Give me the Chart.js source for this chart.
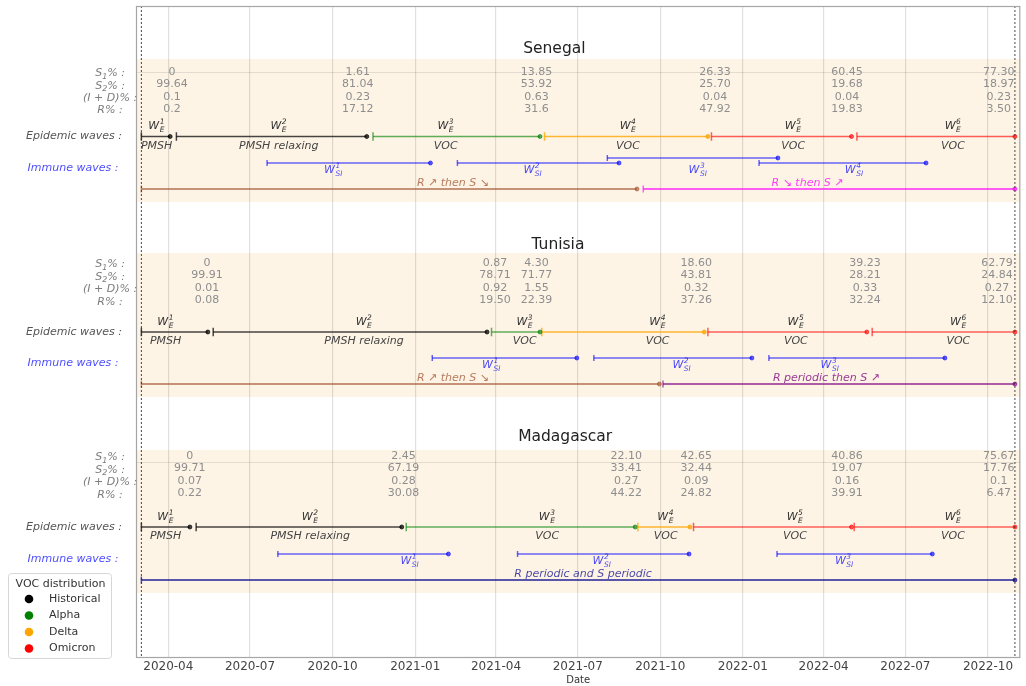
<!DOCTYPE html>
<html>
<head>
<meta charset="utf-8">
<title>Epidemic and immune waves</title>
<script src="https://cdn.jsdelivr.net/npm/chart.js@4.4.1/dist/chart.umd.min.js"></script>
<style>
  html, body { margin: 0; padding: 0; background: #ffffff; }
  #wrap { width: 1026px; height: 686px; }
</style>
</head>
<body>
<div id="wrap"><canvas id="chart" width="1026" height="686"></canvas></div>
<script>
// ---------- axis ----------
const tickLabels = ['2020-04', '2020-07', '2020-10', '2021-01', '2021-04', '2021-07',
                    '2021-10', '2022-01', '2022-04', '2022-07', '2022-10'];
const axisStart = '2020-02-25';
const axisEnd = '2022-11-06';
const studyStart = '2020-03-02';
const studyEnd = '2022-10-31';
const vocNames = ['Historical', 'Alpha', 'Delta', 'Omicron'];

// ---------- Senegal ----------
const senegalWaveStart = ['2020-03-02', '2020-04-10', '2020-11-15', '2021-05-25', '2021-11-27', '2022-05-08'];
const senegalWaveEnd   = ['2020-04-03', '2020-11-08', '2021-05-20', '2021-11-23', '2022-05-02', '2022-10-31'];
const senegalWaveVoc   = ['Historical', 'Historical', 'Alpha', 'Delta', 'Omicron', 'Omicron'];
const senegalWaveLabelAt = ['2020-03-19', '2020-08-02', '2021-02-04', '2021-08-26', '2022-02-26', '2022-08-23'];
const senegalWaveNote  = ['PMSH', 'PMSH relaxing', 'VOC', 'VOC', 'VOC', 'VOC'];
const senegalStatAt = ['2020-04-05', '2020-10-29', '2021-05-16', '2021-12-01', '2022-04-27', '2022-10-13'];
const senegalS1 = ['0', '1.61', '13.85', '26.33', '60.45', '77.30'];
const senegalS2 = ['99.64', '81.04', '53.92', '25.70', '19.68', '18.97'];
const senegalID = ['0.1', '0.23', '0.63', '0.04', '0.04', '0.23'];
const senegalR  = ['0.2', '17.12', '31.6', '47.92', '19.83', '3.50'];
const senegalImmuneStart = ['2020-07-20', '2021-02-17', '2021-08-03', '2022-01-19'];
const senegalImmuneEnd   = ['2021-01-18', '2021-08-16', '2022-02-09', '2022-07-24'];
const senegalImmuneLabelAt = ['2020-10-02', '2021-05-12', '2021-11-12', '2022-05-05'];
const senegalTrendStart = ['2020-03-02', '2021-09-12'];
const senegalTrendEnd   = ['2021-09-05', '2022-10-31'];
const senegalTrendText  = ['R ↗ then S ↘', 'R ↘ then S ↗'];
const senegalTrendLabelAt = ['2021-02-12', '2022-03-14'];

// ---------- Tunisia ----------
const tunisiaWaveStart = ['2020-03-02', '2020-05-21', '2021-03-27', '2021-05-22', '2021-11-23', '2022-05-25'];
const tunisiaWaveEnd   = ['2020-05-15', '2021-03-22', '2021-05-20', '2021-11-19', '2022-05-19', '2022-10-31'];
const tunisiaWaveVoc   = ['Historical', 'Historical', 'Alpha', 'Delta', 'Omicron', 'Omicron'];
const tunisiaWaveLabelAt = ['2020-03-29', '2020-11-05', '2021-05-03', '2021-09-28', '2022-03-01', '2022-08-29'];
const tunisiaWaveNote  = ['PMSH', 'PMSH relaxing', 'VOC', 'VOC', 'VOC', 'VOC'];
const tunisiaStatAt = ['2020-05-14', '2021-03-31', '2021-05-16', '2021-11-10', '2022-05-17', '2022-10-11'];
const tunisiaS1 = ['0', '0.87', '4.30', '18.60', '39.23', '62.79'];
const tunisiaS2 = ['99.91', '78.71', '71.77', '43.81', '28.21', '24.84'];
const tunisiaID = ['0.01', '0.92', '1.55', '0.32', '0.33', '0.27'];
const tunisiaR  = ['0.08', '19.50', '22.39', '37.26', '32.24', '12.10'];
const tunisiaImmuneStart = ['2021-01-20', '2021-07-19', '2022-01-30'];
const tunisiaImmuneEnd   = ['2021-06-30', '2022-01-11', '2022-08-14'];
const tunisiaImmuneLabelAt = ['2021-03-27', '2021-10-25', '2022-04-08'];
const tunisiaTrendStart = ['2020-03-02', '2021-10-04'];
const tunisiaTrendEnd   = ['2021-09-30', '2022-10-31'];
const tunisiaTrendText  = ['R ↗ then S ↘', 'R periodic then S ↗'];
const tunisiaTrendLabelAt = ['2021-02-12', '2022-04-04'];

// ---------- Madagascar ----------
const madagascarWaveStart = ['2020-03-02', '2020-05-02', '2020-12-22', '2021-09-06', '2021-11-07', '2022-05-05'];
const madagascarWaveEnd   = ['2020-04-25', '2020-12-17', '2021-09-03', '2021-11-03', '2022-05-02', '2022-10-31'];
const madagascarWaveVoc   = ['Historical', 'Historical', 'Alpha', 'Delta', 'Omicron', 'Omicron'];
const madagascarWaveLabelAt = ['2020-03-29', '2020-09-06', '2021-05-28', '2021-10-07', '2022-02-28', '2022-08-23'];
const madagascarWaveNote  = ['PMSH', 'PMSH relaxing', 'VOC', 'VOC', 'VOC', 'VOC'];
const madagascarStatAt = ['2020-04-25', '2020-12-19', '2021-08-24', '2021-11-10', '2022-04-27', '2022-10-13'];
const madagascarS1 = ['0', '2.45', '22.10', '42.65', '40.86', '75.67'];
const madagascarS2 = ['99.71', '67.19', '33.41', '32.44', '19.07', '17.76'];
const madagascarID = ['0.07', '0.28', '0.27', '0.09', '0.16', '0.1'];
const madagascarR  = ['0.22', '30.08', '44.22', '24.82', '39.91', '6.47'];
const madagascarImmuneStart = ['2020-08-01', '2021-04-25', '2022-02-08'];
const madagascarImmuneEnd   = ['2021-02-07', '2021-11-02', '2022-07-31'];
const madagascarImmuneLabelAt = ['2020-12-26', '2021-07-28', '2022-04-24'];
const madagascarTrendStart = ['2020-03-02'];
const madagascarTrendEnd   = ['2022-10-31'];
const madagascarTrendText  = ['R periodic and S periodic'];
const madagascarTrendLabelAt = ['2021-07-07'];

// ---------- tables built from the arrays ----------
const countries = [
  { name: 'Senegal', waveStart: senegalWaveStart, waveEnd: senegalWaveEnd, waveVoc: senegalWaveVoc,
    waveLabelAt: senegalWaveLabelAt, waveNote: senegalWaveNote, statAt: senegalStatAt,
    stats: [senegalS1, senegalS2, senegalID, senegalR],
    immuneStart: senegalImmuneStart, immuneEnd: senegalImmuneEnd, immuneLabelAt: senegalImmuneLabelAt,
    trendStart: senegalTrendStart, trendEnd: senegalTrendEnd, trendText: senegalTrendText, trendLabelAt: senegalTrendLabelAt },
  { name: 'Tunisia', waveStart: tunisiaWaveStart, waveEnd: tunisiaWaveEnd, waveVoc: tunisiaWaveVoc,
    waveLabelAt: tunisiaWaveLabelAt, waveNote: tunisiaWaveNote, statAt: tunisiaStatAt,
    stats: [tunisiaS1, tunisiaS2, tunisiaID, tunisiaR],
    immuneStart: tunisiaImmuneStart, immuneEnd: tunisiaImmuneEnd, immuneLabelAt: tunisiaImmuneLabelAt,
    trendStart: tunisiaTrendStart, trendEnd: tunisiaTrendEnd, trendText: tunisiaTrendText, trendLabelAt: tunisiaTrendLabelAt },
  { name: 'Madagascar', waveStart: madagascarWaveStart, waveEnd: madagascarWaveEnd, waveVoc: madagascarWaveVoc,
    waveLabelAt: madagascarWaveLabelAt, waveNote: madagascarWaveNote, statAt: madagascarStatAt,
    stats: [madagascarS1, madagascarS2, madagascarID, madagascarR],
    immuneStart: madagascarImmuneStart, immuneEnd: madagascarImmuneEnd, immuneLabelAt: madagascarImmuneLabelAt,
    trendStart: madagascarTrendStart, trendEnd: madagascarTrendEnd, trendText: madagascarTrendText, trendLabelAt: madagascarTrendLabelAt }
];

// ---------- layout (vertical rows of each panel, in y-axis units) ----------
const panels = [
  { titleAt: '2021-06-05', title: 49,  band: [59, 202],  stat: [72, 84.5, 97, 109],   epi: 136.5, imm: 163, trend: 189 },
  { titleAt: '2021-06-09', title: 245, band: [253, 397], stat: [263, 275.5, 288, 300.5], epi: 332, imm: 358, trend: 384 },
  { titleAt: '2021-06-17', title: 437, band: [450, 593], stat: [456, 468.5, 481, 493.5], epi: 527, imm: 554, trend: 580 }
];
const guideRows = [72, 463];

// ---------- styles ----------
const FONT = '"DejaVu Sans", "Liberation Sans", sans-serif';
const vocLine = { Historical: 'rgba(0,0,0,0.72)', Alpha: 'rgba(0,128,0,0.62)', Delta: 'rgba(255,165,0,0.78)', Omicron: 'rgba(255,0,0,0.62)' };
const vocDot  = { Historical: '#000000', Alpha: '#008000', Delta: '#ffa500', Omicron: '#ff0000' };
const immuneLine = 'rgba(0,0,255,0.6)';
const immuneText = 'rgba(0,0,255,0.72)';
const trendLine = {
  'R ↗ then S ↘': 'rgba(160,82,45,0.6)',
  'R ↘ then S ↗': 'rgba(255,0,255,0.62)',
  'R periodic then S ↗': 'rgba(128,0,128,0.62)',
  'R periodic and S periodic': 'rgba(0,0,139,0.65)'
};
const trendTextColor = {
  'R ↗ then S ↘': 'rgba(160,82,45,0.75)',
  'R ↘ then S ↗': 'rgba(255,0,255,0.75)',
  'R periodic then S ↗': 'rgba(128,0,128,0.78)',
  'R periodic and S periodic': 'rgba(0,0,139,0.72)'
};

// ---------- helpers ----------
const EPOCH = Date.UTC(2020, 0, 1);
function day(s) {
  const [y, m, d] = s.split('-').map(Number);
  return (Date.UTC(y, m - 1, d) - EPOCH) / 86400000;
}

// immune waves that overlap the previous one are lifted onto a second lane
function immuneLanes(starts, ends) {
  const laneEnd = [];
  return starts.map((s, i) => {
    let lane = 0;
    while (laneEnd[lane] !== undefined && day(s) < laneEnd[lane]) lane++;
    laneEnd[lane] = day(ends[i]);
    return lane;
  });
}

function segment(x0, x1, y, color, startRadius, width) {
  return {
    data: [{ x: day(x0), y: y }, { x: day(x1), y: y }],
    borderColor: color,
    backgroundColor: color,
    borderWidth: width || 1.6,
    pointStyle: ['line', 'circle'],
    pointRotation: [90, 0],
    pointRadius: [startRadius, 2],
    pointBorderWidth: [1.5, 1],
    pointBorderColor: color,
    pointBackgroundColor: color,
    pointHoverRadius: 0,
    tension: 0
  };
}

// ---------- datasets ----------
const datasets = [];
[studyStart, studyEnd].forEach(d => {
  datasets.push({
    data: [{ x: day(d), y: 6 }, { x: day(d), y: 658 }],
    borderColor: 'rgba(40,40,40,0.85)', borderWidth: 1, borderDash: [2, 2],
    pointRadius: 0, pointHoverRadius: 0
  });
});
countries.forEach((c, ci) => {
  const P = panels[ci];
  c.waveStart.forEach((s, i) => {
    datasets.push(segment(s, c.waveEnd[i], P.epi, vocLine[c.waveVoc[i]], 4.2));
  });
  const lanes = immuneLanes(c.immuneStart, c.immuneEnd);
  c.immuneStart.forEach((s, i) => {
    datasets.push(segment(s, c.immuneEnd[i], P.imm - 5 * lanes[i], immuneLine, 3));
  });
  c.trendStart.forEach((s, i) => {
    datasets.push(segment(s, c.trendEnd[i], P.trend, trendLine[c.trendText[i]], 3.5, 1.8));
  });
});

// ---------- text helpers ----------
function fontStr(size, italic) { return (italic ? 'italic ' : '') + size + 'px ' + FONT; }
function segW(ctx, s, size, italic) {
  if (s.stack) {
    ctx.font = fontStr(size * 0.68, italic);
    return Math.max(ctx.measureText(s.sup).width, ctx.measureText(s.sub).width) + 1;
  }
  ctx.font = fontStr(s.sub ? size * 0.72 : size, italic);
  return ctx.measureText(s.t).width;
}
function drawRich(ctx, segs, x, y, align, size, italic, color) {
  let w = 0;
  segs.forEach(s => { w += segW(ctx, s, size, italic); });
  let cx = align === 'center' ? x - w / 2 : (align === 'right' ? x - w : x);
  ctx.fillStyle = color;
  ctx.textAlign = 'left';
  ctx.textBaseline = 'alphabetic';
  segs.forEach(s => {
    const sw = segW(ctx, s, size, italic);
    if (s.stack) {
      ctx.fillText(s.sup, cx + 0.5, y - size * 0.45);
      ctx.fillText(s.sub, cx + 0.5, y + size * 0.28);
    } else if (s.sub) {
      ctx.fillText(s.t, cx, y + size * 0.25);
    } else {
      ctx.fillText(s.t, cx, y);
    }
    cx += sw;
  });
}

const statRowLabels = [
  [{ t: 'S' }, { t: '1', sub: true }, { t: '% :' }],
  [{ t: 'S' }, { t: '2', sub: true }, { t: '% :' }],
  [{ t: '(I + D)% :' }],
  [{ t: 'R% :' }]
];

// ---------- drawing plugin for panels, annotations and legend ----------
const panelDecor = {
  id: 'panelDecor',
  beforeDraw(chart) {
    const { ctx, chartArea: a, scales: { y } } = chart;
    ctx.save();
    ctx.fillStyle = 'rgba(250,230,200,0.45)';
    panels.forEach(P => {
      const t = y.getPixelForValue(P.band[0]);
      const b = y.getPixelForValue(P.band[1]);
      ctx.fillRect(a.left, t, a.right - a.left, b - t);
    });
    ctx.restore();
  },
  afterDraw(chart) {
    const { ctx, chartArea: a, scales: { x, y } } = chart;
    const X = d => x.getPixelForValue(day(d));
    const Y = v => y.getPixelForValue(v);
    ctx.save();

    // frame
    ctx.strokeStyle = '#a6a6a6';
    ctx.lineWidth = 1.2;
    ctx.strokeRect(a.left + 0.5, a.top + 0.5, a.right - a.left - 1, a.bottom - a.top - 1);

    countries.forEach((c, ci) => {
      const P = panels[ci];
      // title
      ctx.font = fontStr(15.5, false);
      ctx.fillStyle = '#222222';
      ctx.textAlign = 'center';
      ctx.textBaseline = 'middle';
      ctx.fillText(c.name, X(P.titleAt), Y(P.title));

      // compartment shares
      ctx.font = fontStr(11, false);
      ctx.fillStyle = '#8e8e8e';
      c.stats.forEach((row, r) => {
        row.forEach((v, k) => ctx.fillText(v, X(c.statAt[k]), Y(P.stat[r])));
      });
      statRowLabels.forEach((segs, r) => {
        drawRich(ctx, segs, 110, Y(P.stat[r]) + 4, 'center', 11, true, '#7c7c7c');
      });

      // row headers
      ctx.font = fontStr(11, true);
      ctx.textAlign = 'center';
      ctx.textBaseline = 'middle';
      ctx.fillStyle = '#555555';
      ctx.fillText('Epidemic waves :', 74, Y(P.epi));
      ctx.fillStyle = immuneText;
      ctx.fillText('Immune waves :', 73, Y(P.imm) + 5);

      // epidemic wave names and notes
      c.waveLabelAt.forEach((d, i) => {
        drawRich(ctx, [{ t: 'W' }, { stack: true, sup: String(i + 1), sub: 'E' }],
                 X(d), Y(P.epi) - 7.5, 'center', 11, true, '#333333');
        ctx.font = fontStr(11, true);
        ctx.fillStyle = '#444444';
        ctx.textAlign = 'center';
        ctx.textBaseline = 'alphabetic';
        ctx.fillText(c.waveNote[i], X(d), Y(P.epi) + 12);
      });

      // immune wave names
      c.immuneLabelAt.forEach((d, i) => {
        drawRich(ctx, [{ t: 'W' }, { stack: true, sup: String(i + 1), sub: 'SI' }],
                 X(d), Y(P.imm) + 9.5, 'center', 11, true, immuneText);
      });

      // R / S trend captions
      c.trendLabelAt.forEach((d, i) => {
        ctx.font = fontStr(11, true);
        ctx.fillStyle = trendTextColor[c.trendText[i]];
        ctx.textAlign = 'center';
        ctx.textBaseline = 'alphabetic';
        ctx.fillText(c.trendText[i], X(d), Y(P.trend) - 3);
      });
    });

    // legend
    const lx = 8, ly = 573, lw = 103, lh = 85;
    ctx.fillStyle = 'rgba(255,255,255,0.85)';
    ctx.strokeStyle = '#d6d6d6';
    ctx.lineWidth = 1;
    ctx.beginPath();
    ctx.roundRect(lx + 0.5, ly + 0.5, lw, lh, 3);
    ctx.fill();
    ctx.stroke();
    ctx.font = fontStr(11, false);
    ctx.fillStyle = '#333333';
    ctx.textAlign = 'center';
    ctx.textBaseline = 'middle';
    ctx.fillText('VOC distribution', lx + lw / 2 + 1, ly + 11);
    vocNames.forEach((n, i) => {
      const cy = ly + 26 + i * 16.5;
      ctx.fillStyle = vocDot[n];
      ctx.beginPath();
      ctx.arc(29, cy, 4.3, 0, Math.PI * 2);
      ctx.fill();
      ctx.fillStyle = '#333333';
      ctx.textAlign = 'left';
      ctx.fillText(n, 49, cy);
    });
    ctx.restore();
  }
};

Chart.defaults.font.family = FONT;

new Chart(document.getElementById('chart'), {
  type: 'line',
  data: { datasets },
  plugins: [panelDecor],
  options: {
    responsive: false,
    animation: false,
    devicePixelRatio: 1,
    layout: { padding: { left: 136, right: 5, top: 6, bottom: 0 } },
    plugins: { legend: { display: false }, tooltip: { enabled: false } },
    scales: {
      x: {
        type: 'linear',
        min: day(axisStart),
        max: day(axisEnd),
        afterBuildTicks: s => { s.ticks = tickLabels.map(t => ({ value: day(t + '-01') })); },
        afterFit: s => { s.height = 28; },
        ticks: {
          autoSkip: false, maxRotation: 0, padding: 2,
          color: '#444444', font: { size: 12 },
          callback: (v, i) => tickLabels[i]
        },
        grid: { color: 'rgba(0,0,0,0.12)', lineWidth: 1.2, drawTicks: false },
        border: { display: false },
        title: { display: true, text: 'Date', color: '#333333', font: { size: 10 }, padding: 0 }
      },
      y: {
        type: 'linear',
        min: 6,
        max: 658,
        reverse: true,
        afterBuildTicks: s => { s.ticks = guideRows.map(v => ({ value: v })); },
        afterFit: s => { s.width = 0; },
        ticks: { display: false },
        grid: { color: 'rgba(0,0,0,0.1)', lineWidth: 1, drawTicks: false },
        border: { display: false }
      }
    }
  }
});
</script>
</body>
</html>
